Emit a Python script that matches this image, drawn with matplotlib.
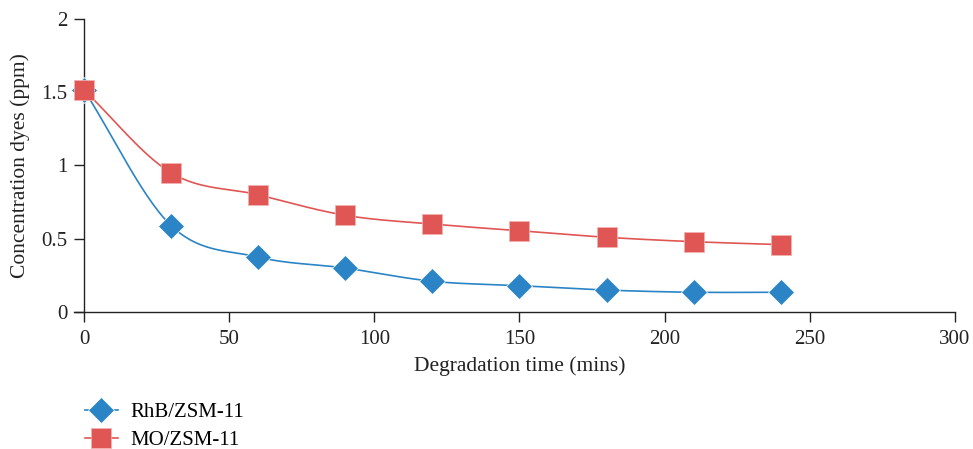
import matplotlib.pyplot as plt
import numpy as np

plt.rcParams['font.family'] = ['Liberation Serif', 'DejaVu Serif']

tiempo = [0, 30, 60, 90, 120, 150, 180, 210, 240]
rhb = [1.515, 0.59, 0.375, 0.30, 0.21, 0.18, 0.15, 0.135, 0.135]
mo = [1.515, 0.95, 0.80, 0.66, 0.60, 0.555, 0.51, 0.48, 0.46]

azul = '#2a84c5'
rojo = '#e05654'


def suave(x, y, n=30, t=0.5):
    # curva tipo catmull-rom entre los puntos (como el "smooth" de excel)
    x = np.asarray(x, float)
    y = np.asarray(y, float)
    px = np.concatenate([[2 * x[0] - x[1]], x, [2 * x[-1] - x[-2]]])
    py = np.concatenate([[2 * y[0] - y[1]], y, [2 * y[-1] - y[-2]]])
    xs, ys = [], []
    for i in range(1, len(px) - 2):
        s = np.linspace(0, 1, n)
        for p, out in ((px, xs), (py, ys)):
            p0, p1, p2, p3 = p[i - 1], p[i], p[i + 1], p[i + 2]
            m1 = t * (p2 - p0)
            m2 = t * (p3 - p1)
            h00 = 2 * s**3 - 3 * s**2 + 1
            h10 = s**3 - 2 * s**2 + s
            h01 = -2 * s**3 + 3 * s**2
            h11 = s**3 - s**2
            out.extend(h00 * p1 + h10 * m1 + h01 * p2 + h11 * m2)
    return np.array(xs), np.array(ys)


fig = plt.figure(figsize=(9.73, 4.49), dpi=100)
ax = fig.add_axes([0.0863, 0.305, 0.8952, 0.653])

sx, sy = suave(tiempo, rhb)
ax.plot(sx, sy, color=azul, lw=1.2, zorder=2)
ax.plot(tiempo, rhb, 'D', color=azul, ms=13, mec='white', mew=0.5, zorder=3, clip_on=False)
sx, sy = suave(tiempo, mo)
ax.plot(sx, sy, color=rojo, lw=1.2, zorder=2)
ax.plot(tiempo, mo, 's', color=rojo, ms=15, mec='#f2b0ae', mew=0.6, zorder=4, clip_on=False)

ax.set_xlim(0, 300)
ax.set_ylim(0, 2)
ax.set_xticks([0, 50, 100, 150, 200, 250, 300])
ax.set_yticks([0, 0.5, 1, 1.5, 2])
ax.set_yticklabels(['0', '0.5', '1', '1.5', '2'])
ax.spines['top'].set_visible(False)
ax.spines['right'].set_visible(False)
for s in ('left', 'bottom'):
    ax.spines[s].set_color('#222222')
    ax.spines[s].set_linewidth(1.0)
ax.spines['bottom'].set_bounds(-3.5, 300)
ax.tick_params(direction='out', length=7, width=1, colors='#222222', labelsize=15)
ax.tick_params(axis='x', pad=6)
ax.tick_params(axis='y', pad=5)
ax.set_xlabel('Degradation time (mins)', fontsize=15.5, color='#222222', labelpad=5)
ax.set_ylabel('Concentration dyes (ppm)', fontsize=15.5, color='#222222', labelpad=8)

h1, = ax.plot([], [], '-D', color=azul, ms=13, lw=1.2, mec='white', mew=0.5)
h2, = ax.plot([], [], '-s', color=rojo, ms=15, lw=1.2, mec='#f2b0ae', mew=0.6)
fig.legend([h1, h2], ['RhB/ZSM-11', 'MO/ZSM-11'], loc='upper left',
           bbox_to_anchor=(0.087, 0.104), frameon=False, fontsize=15,
           handlelength=1.6, handletextpad=0.6, labelspacing=0.4,
           borderpad=0, borderaxespad=0)

fig.savefig('out.png', dpi=100)
